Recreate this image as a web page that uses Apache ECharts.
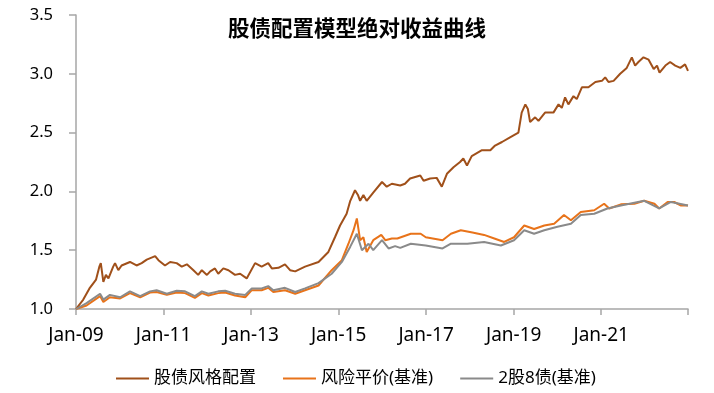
<!DOCTYPE html>
<html>
<head>
<meta charset="utf-8">
<script src="https://cdn.jsdelivr.net/npm/echarts@6/dist/echarts.min.js"></script>
<style>html,body{margin:0;padding:0;background:#fff}#c{width:714px;height:393px}</style>
</head>
<body>
<div id="c"></div>
<script>
// time is in months since Jan-2009
const title = '股债配置模型绝对收益曲线';
const seriesNames = ['股债风格配置', '风险平价(基准)', '2股8债(基准)'];
const yTicks = [1.0, 1.5, 2.0, 2.5, 3.0, 3.5];
const xTickLabels = ['Jan-09', 'Jan-11', 'Jan-13', 'Jan-15', 'Jan-17', 'Jan-19', 'Jan-21'];

const brownMonths = [0,2.0,3.8,5.5,6.4,6.8,7.5,8.2,8.9,10.2,10.7,11.6,12.5,14.8,16.6,18.0,19.4,21.7,22.6,24.4,25.8,27.6,29.0,30.4,32.2,33.5,34.5,35.9,36.8,38.1,39.0,40.4,41.8,43.6,45.0,46.8,49.1,50.9,52.7,53.7,55.5,57.3,58.7,60.1,62.8,66.5,69.2,71.0,72.4,74.2,75.2,76.5,77.3,77.9,78.8,79.7,81.5,83.9,85.2,86.6,88.9,90.2,91.6,94.4,95.3,97.1,98.9,100.3,101.7,103.5,105.3,106.2,107.2,108.5,111.3,113.6,114.9,116.8,119.0,121.3,122.2,123.2,123.9,124.5,125.9,126.8,128.6,130.9,132.3,133.2,134.1,135.0,136.4,137.3,138.7,140.5,142.4,144.2,145.1,146.0,147.4,149.2,151.0,152.4,153.3,154.2,155.6,157.0,158.4,159.3,160.0,161.6,162.9,164.3,165.7,167.0,167.8];
const brownValues = [1.00,1.08,1.18,1.25,1.36,1.39,1.23,1.29,1.26,1.36,1.39,1.33,1.37,1.40,1.37,1.39,1.42,1.45,1.415,1.37,1.40,1.39,1.36,1.38,1.33,1.29,1.33,1.29,1.32,1.345,1.30,1.345,1.33,1.29,1.30,1.26,1.39,1.36,1.39,1.345,1.35,1.38,1.33,1.32,1.36,1.40,1.485,1.61,1.71,1.81,1.92,2.01,1.97,1.92,1.97,1.92,1.99,2.08,2.04,2.065,2.05,2.065,2.11,2.135,2.09,2.11,2.115,2.04,2.15,2.205,2.25,2.28,2.22,2.30,2.35,2.35,2.39,2.42,2.46,2.50,2.67,2.74,2.70,2.59,2.63,2.60,2.67,2.67,2.74,2.71,2.80,2.74,2.81,2.785,2.885,2.885,2.93,2.94,2.97,2.93,2.94,3.00,3.05,3.14,3.07,3.10,3.14,3.12,3.04,3.07,3.01,3.07,3.10,3.07,3.05,3.08,3.025];

const orangeMonths = [0,2.9,6.6,7.5,9.3,12.1,14.8,17.6,20.3,22.1,24.9,27.6,29.9,32.6,34.5,36.3,39.0,40.9,43.6,46.4,48.2,50.9,52.7,54.1,57.3,60.1,62.8,66.5,70.1,72.9,74.7,76.1,77.0,77.9,78.8,79.7,81.5,83.7,84.8,86.6,88.1,91.8,94.5,95.9,100.5,102.8,105.5,108.7,111.9,114.7,117.4,120.1,122.9,125.6,128.4,131.1,133.8,135.7,138.4,142.1,144.8,146.2,149.4,153.1,155.8,158.6,159.9,162.2,164.0,165.9,167.8];
const orangeValues = [1.00,1.03,1.11,1.06,1.10,1.09,1.135,1.10,1.14,1.145,1.12,1.14,1.135,1.095,1.135,1.115,1.135,1.14,1.115,1.10,1.16,1.16,1.18,1.145,1.16,1.13,1.16,1.20,1.33,1.415,1.555,1.67,1.77,1.585,1.61,1.485,1.585,1.63,1.585,1.60,1.60,1.64,1.64,1.61,1.585,1.64,1.67,1.65,1.63,1.60,1.57,1.61,1.71,1.68,1.71,1.725,1.80,1.755,1.825,1.84,1.895,1.855,1.89,1.895,1.92,1.895,1.855,1.91,1.91,1.88,1.88];

const greyMonths = [0,2.9,6.6,7.5,9.3,12.1,14.8,17.6,20.3,22.1,24.9,27.6,29.9,32.6,34.5,36.3,39.0,40.9,43.6,46.4,48.2,50.9,52.7,54.1,57.3,60.1,62.8,66.5,70.1,72.9,75.2,77.0,78.4,80.2,81.5,83.9,85.7,87.5,88.9,91.8,95.9,100.5,102.8,107.3,111.9,116.5,120.1,122.9,125.6,128.4,132.0,135.7,138.4,142.1,145.7,149.4,155.8,159.9,163.1,167.8];
const greyValues = [1.00,1.05,1.13,1.08,1.12,1.10,1.15,1.11,1.15,1.16,1.13,1.155,1.15,1.11,1.15,1.13,1.15,1.155,1.13,1.12,1.175,1.175,1.195,1.16,1.18,1.145,1.175,1.22,1.30,1.40,1.53,1.64,1.50,1.555,1.50,1.585,1.515,1.535,1.52,1.555,1.54,1.515,1.555,1.555,1.57,1.54,1.585,1.67,1.64,1.67,1.70,1.725,1.80,1.81,1.855,1.88,1.92,1.855,1.91,1.88];

const colors = ['#A0501A', '#E8731A', '#8A8A8A'];
const zip = (a, b) => a.map((x, i) => [x, b[i]]);
const font = "'Noto Sans', 'Noto Sans CJK SC', sans-serif";

const mkSeries = (i, months, values) => ({
  name: seriesNames[i], type: 'line', data: zip(months, values),
  showSymbol: false, symbol: 'none',
  lineStyle: {width: 2, color: colors[i]}, itemStyle: {color: colors[i]}
});

const chart = echarts.init(document.getElementById('c'), null, {renderer: 'canvas'});
chart.setOption({
  animation: false,
  backgroundColor: '#fff',
  title: {
    text: title, left: 'center', top: 12,
    textStyle: {fontSize: 21.5, fontWeight: 'bold', color: '#000', fontFamily: "'Noto Sans CJK SC', sans-serif"}
  },
  grid: {left: 76, right: 26, top: 15, bottom: 84, containLabel: false},
  legend: {
    left: 111, top: 365, itemWidth: 33, itemHeight: 2, itemGap: 27,
    textStyle: {fontSize: 17, color: '#000', fontFamily: font},
    data: seriesNames.map((n, i) => ({name: n, icon: 'rect', itemStyle: {color: colors[i], opacity: 1}}))
  },
  xAxis: {
    type: 'value', min: 0, max: 167.8, interval: 24,
    splitLine: {show: false},
    axisLine: {lineStyle: {color: '#a6a6a6', width: 1.5}},
    axisTick: {show: true, length: 6, lineStyle: {color: '#a6a6a6', width: 1.5}},
    axisLabel: {
      fontSize: 19, color: '#000', fontFamily: font, margin: 17,
      formatter: v => xTickLabels[Math.round(v / 24)] || ''
    }
  },
  yAxis: {
    type: 'value', min: yTicks[0], max: yTicks[yTicks.length - 1], interval: 0.5,
    splitLine: {show: false},
    axisLine: {show: true, lineStyle: {color: '#a6a6a6', width: 1.5}},
    axisTick: {show: true, length: 7, lineStyle: {color: '#a6a6a6', width: 1.5}},
    axisLabel: {fontSize: 16.5, color: '#000', fontFamily: font, margin: 23, formatter: v => v.toFixed(1)}
  },
  series: [
    mkSeries(0, brownMonths, brownValues),
    mkSeries(1, orangeMonths, orangeValues),
    mkSeries(2, greyMonths, greyValues)
  ]
});
</script>
</body>
</html>
